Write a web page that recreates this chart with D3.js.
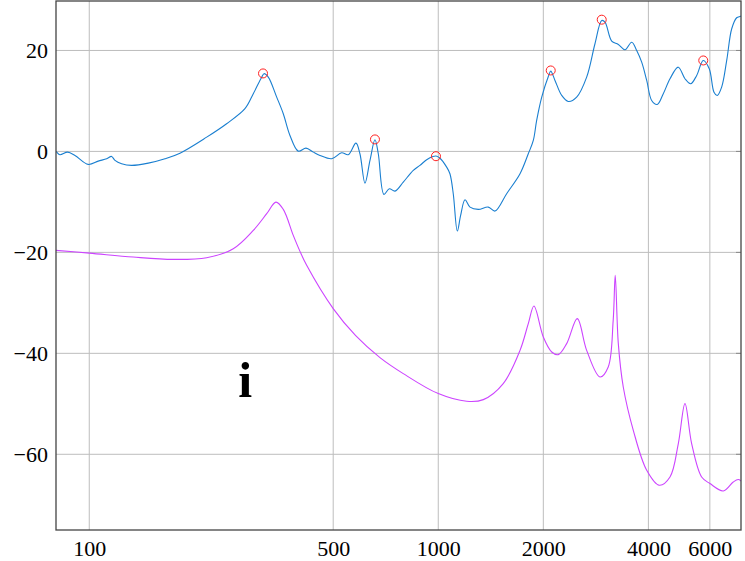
<!DOCTYPE html>
<html><head><meta charset="utf-8">
<script src="https://cdn.jsdelivr.net/npm/d3@7"></script>
<style>body{margin:0;background:#fff}svg{display:block}text{font-family:"Liberation Serif","DejaVu Serif",serif}</style>
</head><body><div id="c"></div>
<script>
const xTicks = [100, 500, 1000, 2000, 4000, 6000];
const yTicks = [-60, -40, -20, 0, 20];

const blueFreq = [80.3,80.7,82.4,86.7,91.0,99.3,106.1,112.2,115.9,118.5,123.8,132.2,147.6,164.8,181.9,217.0,247.5,279.3,295.1,311.9,316.7,325.8,344.4,359.7,375.9,397.1,417.8,438.4,458.2,495.0,528.6,552.1,580.9,596.4,616.6,637.3,658.6,673.2,699.0,724.0,751.7,793.8,848.0,886.1,926.4,965,985,1010,1057,1080,1104,1134,1159,1193,1233,1302,1391,1454,1570,1715,1811,1872,1914,1979,2067,2100,2160,2258,2358,2492,2662,2812,2940,3005,3140,3280,3428,3583,3703,3827,3956,4088,4242,4413,4613,4873,5092,5287,5501,5745,5977,6166,6302,6486,6706,6931,7162,7320,7369];
const blueDb = [0.0,-0.14,-0.65,-0.14,-0.79,-2.57,-1.92,-1.45,-0.99,-1.78,-2.44,-2.77,-2.32,-1.45,-0.34,2.83,5.49,8.46,11.43,14.71,15.4,14.71,10.75,7.47,3.17,0.06,0.65,-0.14,-0.79,-1.45,-0.26,-0.65,1.64,-0.46,-6.28,-1.78,2.3,-0.46,-8.51,-7.39,-7.86,-6.08,-3.76,-2.77,-1.64,-1.0,-0.9,-1.3,-3.11,-4.42,-8.38,-15.78,-12.67,-9.56,-11.03,-11.49,-11.03,-11.82,-8.38,-4.42,-0.46,2.18,6.14,10.75,14.85,15.9,14.06,11.09,9.90,10.75,14.71,21.33,25.94,25.6,21.84,21.19,20.14,21.64,20.0,17.68,14.06,10.10,9.31,11.43,14.40,16.69,14.40,13.41,15.05,18.02,16.38,11.74,11.09,12.73,18.02,24.30,26.48,26.73,26.8];

const magFreq = [80.3,100,133.6,174.0,217.0,258.6,295.1,322.4,342.7,359.7,384.2,401.6,419.7,500,580,680.7,793.8,1000,1206,1346,1535,1715,1811,1880,2000,2114,2207,2333,2502,2662,2906,3069,3171,3214,3280,3389,3621,3956,4298,4613,4873,5092,5321,5684,6003,6556,7003,7238,7369];
const magDb = [-19.60,-20.14,-20.93,-21.39,-21.05,-19.27,-15.64,-12.34,-10.04,-11.49,-16.63,-19.80,-22.57,-31.15,-36.5,-40.85,-44.02,-47.98,-49.50,-49.17,-46.0,-39.41,-34.12,-30.63,-36.77,-39.74,-40.26,-38.08,-33.13,-39.41,-44.69,-42.71,-33.47,-24.55,-38.08,-46.67,-55.25,-63.17,-66.14,-64.50,-57.88,-49.96,-57.88,-64.50,-65.80,-67.27,-65.49,-65.01,-65.29];

const peakFreq = [314.7, 658.6, 985, 2100, 2940, 5745];
const peakDb = [15.45, 2.38, -0.95, 16.04, 26.1, 18.02];

const W = 745, H = 561;
const m = {left:56, right:4, top:1, bottom:31};
const svg = d3.select("#c").append("svg").attr("width", W).attr("height", H);
const x = d3.scaleLog().domain([80.3, 7369]).range([m.left, W - m.right]);
const y = d3.scaleLinear().domain([-75, 29.8]).range([H - m.bottom, m.top]);

// grid
const g = svg.append("g");
g.selectAll("line.vx").data(xTicks).join("line")
  .attr("x1", d => x(d)).attr("x2", d => x(d)).attr("y1", y.range()[1]).attr("y2", y.range()[0])
  .attr("stroke", "#bdbdbd").attr("stroke-width", 1);
g.selectAll("line.hy").data(yTicks).join("line")
  .attr("y1", d => y(d)).attr("y2", d => y(d)).attr("x1", x.range()[0]).attr("x2", x.range()[1])
  .attr("stroke", "#bdbdbd").attr("stroke-width", 1);

// axes (labels only)
const xAxis = d3.axisBottom(x).tickValues(xTicks).tickFormat(d3.format("d")).tickSize(0).tickPadding(10);
const ax = svg.append("g").attr("transform", `translate(0,${H - m.bottom})`).call(xAxis);
ax.select(".domain").remove();
ax.selectAll("text").attr("font-size", 22).attr("fill", "#000").attr("font-family", "Liberation Serif");

const yAxis = d3.axisLeft(y).tickValues(yTicks).tickFormat(d => d < 0 ? "\u2212" + Math.abs(d) : String(d)).tickSize(0).tickPadding(8);
const ay = svg.append("g").attr("transform", `translate(${m.left},0)`).call(yAxis);
ay.select(".domain").remove();
ay.selectAll("text").attr("font-size", 22).attr("fill", "#000").attr("font-family", "Liberation Serif");

// tick marks on the right edge
svg.selectAll("line.rt").data(yTicks).join("line")
  .attr("x1", W - m.right - 5).attr("x2", W - m.right).attr("y1", d => y(d)).attr("y2", d => y(d))
  .attr("stroke", "#888").attr("stroke-width", 1);

const clip = svg.append("clipPath").attr("id", "cl").append("rect")
  .attr("x", m.left).attr("y", m.top).attr("width", W - m.left - m.right).attr("height", H - m.top - m.bottom);

const line = d3.line().x(d => x(d[0])).y(d => y(d[1])).curve(d3.curveCatmullRom.alpha(0.5));
const plot = svg.append("g").attr("clip-path", "url(#cl)");
plot.append("path").datum(magFreq.map((f, i) => [f, magDb[i]]))
  .attr("d", line).attr("fill", "none").attr("stroke", "#cc44ff").attr("stroke-width", 1.1);
plot.append("path").datum(blueFreq.map((f, i) => [f, blueDb[i]]))
  .attr("d", line).attr("fill", "none").attr("stroke", "#1a7fd0").attr("stroke-width", 1.1);

plot.selectAll("circle").data(peakFreq.map((f, i) => [f, peakDb[i]])).join("circle")
  .attr("cx", d => x(d[0])).attr("cy", d => y(d[1])).attr("r", 4.5)
  .attr("fill", "none").attr("stroke", "#ff2020").attr("stroke-width", 1);

// frame
svg.append("rect").attr("x", m.left).attr("y", m.top).attr("width", W - m.left - m.right).attr("height", H - m.top - m.bottom)
  .attr("fill", "none").attr("stroke", "#444").attr("stroke-width", 1.3);

svg.append("text").attr("x", x(280)).attr("y", y(-48.7)).attr("text-anchor", "middle")
  .attr("font-size", 50).attr("font-weight", "bold").attr("font-family", "Liberation Serif").text("i");
</script></body></html>
